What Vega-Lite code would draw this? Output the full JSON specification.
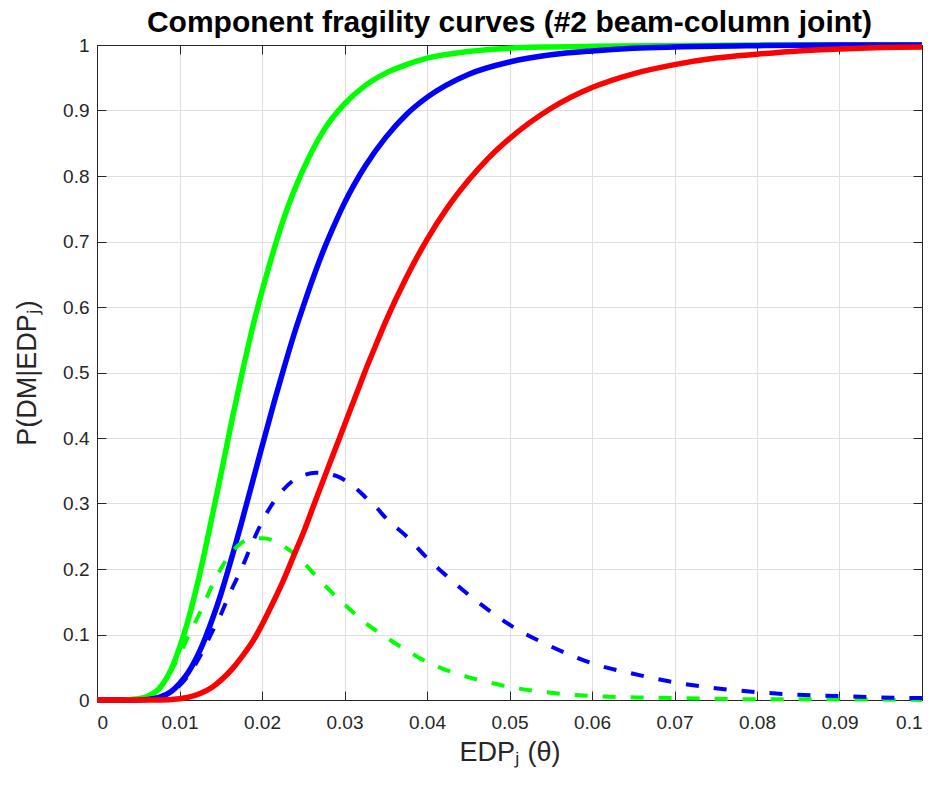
{
  "$schema": "https://vega.github.io/schema/vega-lite/v6.json",
  "width": 825,
  "height": 655,
  "autosize": "none",
  "padding": {"left": 97, "top": 45, "right": 20, "bottom": 85},
  "background": "white",
  "title": {
    "text": "Component fragility curves (#2 beam-column joint)",
    "font": "Liberation Sans",
    "fontSize": 30,
    "fontWeight": "bold",
    "color": "#000000",
    "anchor": "middle",
    "frame": "group",
    "offset": -4
  },
  "config": {
    "view": {"stroke": "#262626", "strokeWidth": 1},
    "axis": {
      "domainColor": "#262626",
      "domainWidth": 1,
      "tickColor": "#262626",
      "tickWidth": 1,
      "tickSize": -9,
      "labelColor": "#262626",
      "labelFont": "Liberation Sans",
      "labelFontSize": 19,
      "titleFont": "Liberation Sans",
      "titleFontSize": 27,
      "titleFontWeight": "normal",
      "titleColor": "#262626",
      "gridColor": "#dfdfdf",
      "gridWidth": 1
    }
  },
  "datasets": {
    "g": [
      {"x": 0, "y": 0}, {"x": 0.0025, "y": 0}, {"x": 0.005, "y": 0.002}, {"x": 0.006, "y": 0.005},
      {"x": 0.0075, "y": 0.017}, {"x": 0.009, "y": 0.047}, {"x": 0.01, "y": 0.08}, {"x": 0.011, "y": 0.12},
      {"x": 0.0125, "y": 0.195}, {"x": 0.014, "y": 0.283}, {"x": 0.015, "y": 0.343}, {"x": 0.0165, "y": 0.436},
      {"x": 0.0175, "y": 0.494}, {"x": 0.019, "y": 0.576}, {"x": 0.02, "y": 0.624}, {"x": 0.0215, "y": 0.69},
      {"x": 0.0225, "y": 0.73}, {"x": 0.025, "y": 0.81}, {"x": 0.0275, "y": 0.87}, {"x": 0.03, "y": 0.91},
      {"x": 0.0325, "y": 0.938}, {"x": 0.035, "y": 0.957}, {"x": 0.0375, "y": 0.97}, {"x": 0.04, "y": 0.98},
      {"x": 0.045, "y": 0.99}, {"x": 0.05, "y": 0.995}, {"x": 0.055, "y": 0.997}, {"x": 0.06, "y": 0.998},
      {"x": 0.07, "y": 0.999}, {"x": 0.08, "y": 1}, {"x": 0.09, "y": 1}, {"x": 0.1, "y": 1}
    ],
    "b": [
      {"x": 0, "y": 0}, {"x": 0.005, "y": 0}, {"x": 0.0075, "y": 0.004}, {"x": 0.009, "y": 0.013},
      {"x": 0.01, "y": 0.025}, {"x": 0.011, "y": 0.041}, {"x": 0.0125, "y": 0.076}, {"x": 0.014, "y": 0.124},
      {"x": 0.015, "y": 0.161}, {"x": 0.016, "y": 0.203}, {"x": 0.0175, "y": 0.27}, {"x": 0.019, "y": 0.34},
      {"x": 0.02, "y": 0.387}, {"x": 0.0215, "y": 0.456}, {"x": 0.0225, "y": 0.5}, {"x": 0.024, "y": 0.563},
      {"x": 0.025, "y": 0.601}, {"x": 0.0265, "y": 0.655}, {"x": 0.0275, "y": 0.688}, {"x": 0.029, "y": 0.732},
      {"x": 0.03, "y": 0.759}, {"x": 0.0325, "y": 0.815}, {"x": 0.035, "y": 0.859}, {"x": 0.0375, "y": 0.894},
      {"x": 0.04, "y": 0.92}, {"x": 0.045, "y": 0.955}, {"x": 0.05, "y": 0.974}, {"x": 0.055, "y": 0.985},
      {"x": 0.06, "y": 0.991}, {"x": 0.065, "y": 0.995}, {"x": 0.07, "y": 0.997}, {"x": 0.08, "y": 0.999},
      {"x": 0.09, "y": 1}, {"x": 0.1, "y": 1}
    ],
    "r": [
      {"x": 0, "y": 0}, {"x": 0.005, "y": 0}, {"x": 0.0075, "y": 0}, {"x": 0.01, "y": 0.002},
      {"x": 0.011, "y": 0.004}, {"x": 0.0125, "y": 0.01}, {"x": 0.014, "y": 0.02}, {"x": 0.015, "y": 0.03},
      {"x": 0.0165, "y": 0.049}, {"x": 0.0175, "y": 0.065}, {"x": 0.019, "y": 0.092}, {"x": 0.02, "y": 0.115},
      {"x": 0.0215, "y": 0.153}, {"x": 0.0225, "y": 0.18}, {"x": 0.024, "y": 0.225}, {"x": 0.025, "y": 0.255},
      {"x": 0.0265, "y": 0.305}, {"x": 0.0275, "y": 0.338}, {"x": 0.029, "y": 0.387}, {"x": 0.03, "y": 0.42},
      {"x": 0.0315, "y": 0.469}, {"x": 0.0325, "y": 0.502}, {"x": 0.034, "y": 0.548}, {"x": 0.035, "y": 0.578},
      {"x": 0.0375, "y": 0.645}, {"x": 0.04, "y": 0.703}, {"x": 0.0425, "y": 0.752}, {"x": 0.045, "y": 0.793},
      {"x": 0.0475, "y": 0.828}, {"x": 0.05, "y": 0.857}, {"x": 0.055, "y": 0.903}, {"x": 0.06, "y": 0.935},
      {"x": 0.065, "y": 0.956}, {"x": 0.07, "y": 0.97}, {"x": 0.075, "y": 0.98}, {"x": 0.08, "y": 0.986},
      {"x": 0.085, "y": 0.991}, {"x": 0.09, "y": 0.994}, {"x": 0.095, "y": 0.996}, {"x": 0.1, "y": 0.997}
    ],
    "gd": [
      {"x": 0, "y": 0}, {"x": 0.005, "y": 0.002}, {"x": 0.0075, "y": 0.016}, {"x": 0.009, "y": 0.045},
      {"x": 0.01, "y": 0.068}, {"x": 0.011, "y": 0.096}, {"x": 0.0125, "y": 0.134}, {"x": 0.014, "y": 0.176},
      {"x": 0.015, "y": 0.2}, {"x": 0.016, "y": 0.22}, {"x": 0.0175, "y": 0.24}, {"x": 0.019, "y": 0.247},
      {"x": 0.02, "y": 0.247}, {"x": 0.0215, "y": 0.243}, {"x": 0.0225, "y": 0.236}, {"x": 0.024, "y": 0.222},
      {"x": 0.025, "y": 0.21}, {"x": 0.0265, "y": 0.19}, {"x": 0.028, "y": 0.17}, {"x": 0.03, "y": 0.146},
      {"x": 0.0325, "y": 0.118}, {"x": 0.035, "y": 0.096}, {"x": 0.0375, "y": 0.076}, {"x": 0.04, "y": 0.058},
      {"x": 0.0425, "y": 0.045}, {"x": 0.045, "y": 0.035}, {"x": 0.0475, "y": 0.027}, {"x": 0.05, "y": 0.02},
      {"x": 0.055, "y": 0.011}, {"x": 0.06, "y": 0.006}, {"x": 0.065, "y": 0.004}, {"x": 0.07, "y": 0.003},
      {"x": 0.08, "y": 0.001}, {"x": 0.09, "y": 0.001}, {"x": 0.1, "y": 0}
    ],
    "bd": [
      {"x": 0, "y": 0}, {"x": 0.005, "y": 0}, {"x": 0.0075, "y": 0.004}, {"x": 0.009, "y": 0.012},
      {"x": 0.01, "y": 0.022}, {"x": 0.011, "y": 0.036}, {"x": 0.0125, "y": 0.067}, {"x": 0.014, "y": 0.105},
      {"x": 0.015, "y": 0.13}, {"x": 0.016, "y": 0.16}, {"x": 0.0175, "y": 0.2}, {"x": 0.019, "y": 0.245},
      {"x": 0.02, "y": 0.272}, {"x": 0.0215, "y": 0.304}, {"x": 0.0225, "y": 0.32}, {"x": 0.024, "y": 0.337},
      {"x": 0.025, "y": 0.343}, {"x": 0.0265, "y": 0.347}, {"x": 0.0275, "y": 0.346}, {"x": 0.029, "y": 0.342},
      {"x": 0.03, "y": 0.336}, {"x": 0.0315, "y": 0.322}, {"x": 0.0325, "y": 0.31}, {"x": 0.034, "y": 0.292},
      {"x": 0.035, "y": 0.278}, {"x": 0.0375, "y": 0.25}, {"x": 0.04, "y": 0.217}, {"x": 0.0425, "y": 0.188},
      {"x": 0.045, "y": 0.161}, {"x": 0.0475, "y": 0.137}, {"x": 0.05, "y": 0.115}, {"x": 0.055, "y": 0.082},
      {"x": 0.06, "y": 0.056}, {"x": 0.065, "y": 0.04}, {"x": 0.07, "y": 0.027}, {"x": 0.075, "y": 0.018},
      {"x": 0.08, "y": 0.012}, {"x": 0.085, "y": 0.008}, {"x": 0.09, "y": 0.006}, {"x": 0.095, "y": 0.004},
      {"x": 0.1, "y": 0.003}
    ]
  },
  "layer": [
    {
      "data": {"name": "g"},
      "mark": {"type": "line", "color": "#00ff00", "strokeWidth": 5.5, "interpolate": "monotone", "clip": false},
      "encoding": {
        "x": {
          "field": "x", "type": "quantitative",
          "scale": {"domain": [0, 0.1], "nice": false, "zero": false},
          "axis": {
            "orient": "bottom",
            "values": [0, 0.01, 0.02, 0.03, 0.04, 0.05, 0.06, 0.07, 0.08, 0.09, 0.1],
            "format": "~g",
            "title": "EDPⱼ (θ)",
            "grid": true,
            "labelPadding": 22,
            "titlePadding": 7
          }
        },
        "y": {
          "field": "y", "type": "quantitative",
          "scale": {"domain": [0, 1], "nice": false, "zero": false},
          "axis": {
            "orient": "left",
            "values": [0, 0.1, 0.2, 0.3, 0.4, 0.5, 0.6, 0.7, 0.8, 0.9, 1],
            "format": "~g",
            "title": "P(DM|EDPⱼ)",
            "grid": true,
            "labelPadding": 17,
            "titlePadding": 21
          }
        }
      }
    },
    {
      "data": {"name": "b"},
      "mark": {"type": "line", "color": "#0000ff", "strokeWidth": 5.5, "interpolate": "monotone", "clip": false},
      "encoding": {
        "x": {
          "field": "x", "type": "quantitative",
          "scale": {"domain": [0, 0.1], "nice": false, "zero": false},
          "axis": {
            "orient": "top",
            "values": [0, 0.01, 0.02, 0.03, 0.04, 0.05, 0.06, 0.07, 0.08, 0.09, 0.1],
            "labels": false, "grid": false, "title": null
          }
        },
        "y": {
          "field": "y", "type": "quantitative",
          "scale": {"domain": [0, 1], "nice": false, "zero": false},
          "axis": {
            "orient": "right",
            "values": [0, 0.1, 0.2, 0.3, 0.4, 0.5, 0.6, 0.7, 0.8, 0.9, 1],
            "labels": false, "grid": false, "title": null
          }
        }
      }
    },
    {
      "data": {"name": "gd"},
      "mark": {"type": "line", "color": "#00ff00", "strokeWidth": 4, "strokeDash": [13, 15], "interpolate": "monotone", "clip": false},
      "encoding": {
        "x": {"field": "x", "type": "quantitative", "scale": {"domain": [0, 0.1], "nice": false, "zero": false}, "axis": null},
        "y": {"field": "y", "type": "quantitative", "scale": {"domain": [0, 1], "nice": false, "zero": false}, "axis": null}
      }
    },
    {
      "data": {"name": "bd"},
      "mark": {"type": "line", "color": "#0000ff", "strokeWidth": 4, "strokeDash": [13, 15], "interpolate": "monotone", "clip": false},
      "encoding": {
        "x": {"field": "x", "type": "quantitative", "scale": {"domain": [0, 0.1], "nice": false, "zero": false}, "axis": null},
        "y": {"field": "y", "type": "quantitative", "scale": {"domain": [0, 1], "nice": false, "zero": false}, "axis": null}
      }
    },
    {
      "data": {"name": "r"},
      "mark": {"type": "line", "color": "#ff0000", "strokeWidth": 5.5, "interpolate": "monotone", "clip": false},
      "encoding": {
        "x": {"field": "x", "type": "quantitative", "scale": {"domain": [0, 0.1], "nice": false, "zero": false}, "axis": null},
        "y": {"field": "y", "type": "quantitative", "scale": {"domain": [0, 1], "nice": false, "zero": false}, "axis": null}
      }
    }
  ],
  "resolve": {"axis": {"x": "independent", "y": "independent"}}
}
